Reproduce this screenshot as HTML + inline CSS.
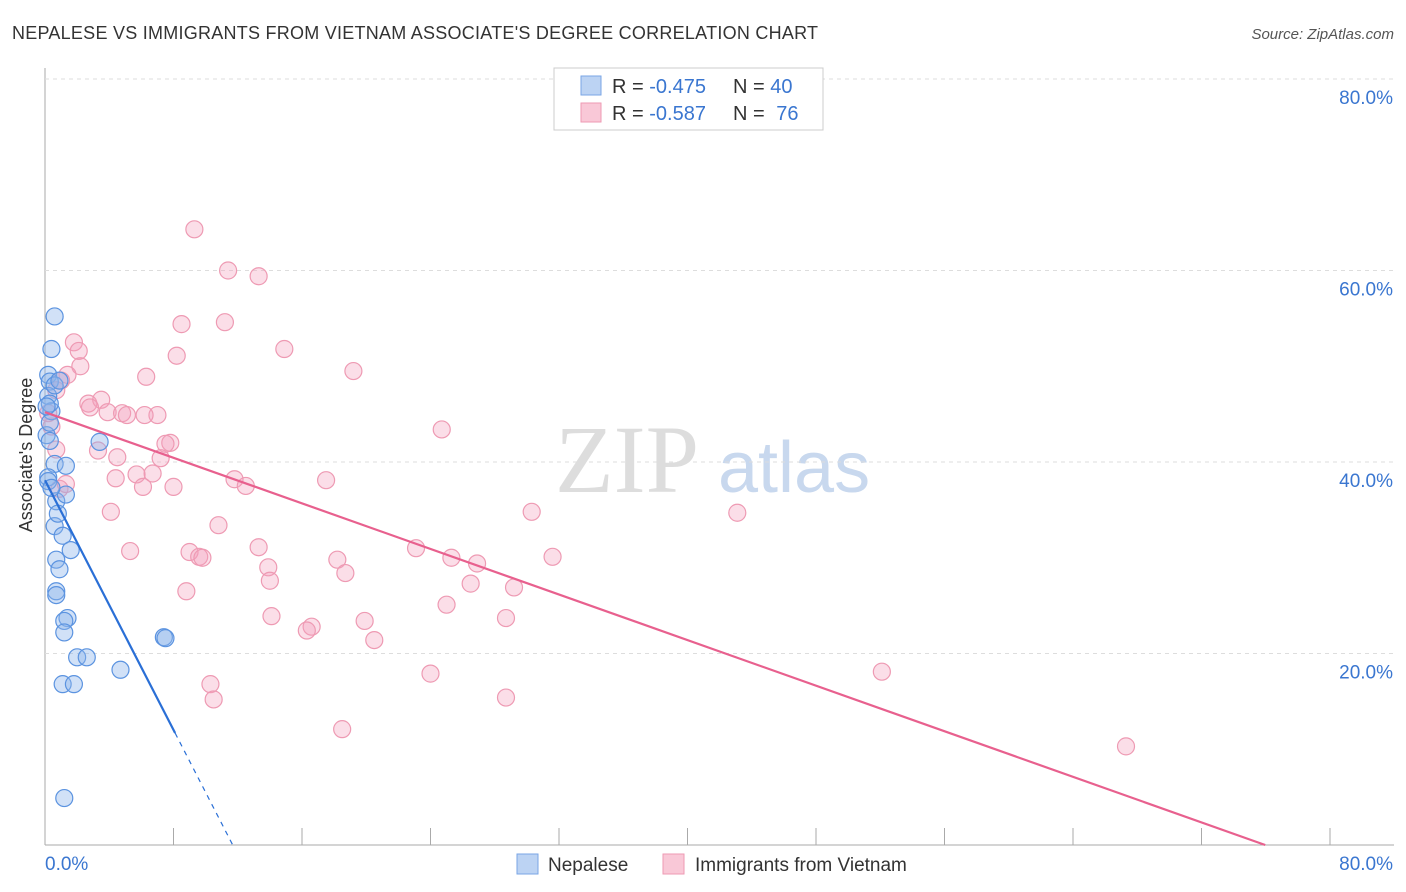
<!DOCTYPE html>
<html><head><meta charset="utf-8">
<style>
body{margin:0;background:#fff;font-family:"Liberation Sans",sans-serif;}
#wrap{position:relative;width:1406px;height:892px;overflow:hidden;}
</style></head>
<body>
<div id="wrap">
<svg id="svg" width="1406" height="892" xmlns="http://www.w3.org/2000/svg">
<text x="12" y="39" font-size="18" fill="#333" textLength="806">NEPALESE VS IMMIGRANTS FROM VIETNAM ASSOCIATE'S DEGREE CORRELATION CHART</text>
<text x="1394" y="39" font-size="15" fill="#555" text-anchor="end" font-style="italic">Source: ZipAtlas.com</text>
<text x="32" y="455" font-size="18" fill="#333" text-anchor="middle" transform="rotate(-90 32 455)">Associate's Degree</text>
<text x="555" y="492" font-size="96" fill="#ddd" font-family="Liberation Serif,serif">ZIP</text>
<text x="718" y="492" font-size="72" fill="#c8d8ee">atlas</text>
<g id="grid"></g><g id="marks"></g>
<g>
<rect x="554" y="68" width="269" height="62" fill="#fff" stroke="#ccc"/>
<rect x="581" y="76" width="20" height="19" fill="#bcd3f3" stroke="#7aa6e6"/>
<rect x="581" y="103" width="20" height="19" fill="#f9c8d7" stroke="#ee9ab3"/>
<text x="612" y="93" font-size="20" fill="#333">R = <tspan fill="#3a76d0">-0.475</tspan></text>
<text x="733" y="93" font-size="20" fill="#333">N = <tspan fill="#3a76d0">40</tspan></text>
<text x="612" y="120" font-size="20" fill="#333">R = <tspan fill="#3a76d0">-0.587</tspan></text>
<text x="733" y="120" font-size="20" fill="#333">N = <tspan fill="#3a76d0" dx="6">76</tspan></text>
</g>
<g>
<rect x="517" y="854" width="21" height="20" fill="#bcd3f3" stroke="#7aa6e6"/>
<text x="548" y="871" font-size="19" fill="#333">Nepalese</text>
<rect x="663" y="854" width="21" height="20" fill="#f9c8d7" stroke="#ee9ab3"/>
<text x="695" y="871" font-size="19" fill="#333">Immigrants from Vietnam</text>
</g>
</svg>
</div>
<script>
const yTicks=[20,40,60,80];
const xTickLabels=["0.0%","80.0%"];
const blueX=[0.6,0.4,0.2,0.3,0.2,0.4,0.1,0.3,3.4,0.6,1.3,0.2,0.7,1.3,0.6,0.8,1.1,1.6,0.7,0.9,0.7,0.7,1.4,1.2,1.2,2.0,2.6,1.1,1.8,4.7,7.4,7.5,1.2,0.2,0.4,0.3,0.6,0.9,0.1,0.3];
const blueY=[55.2,51.8,49.1,48.4,46.9,45.3,42.8,44.1,42.1,39.8,39.6,38.4,35.9,36.6,33.3,34.6,32.3,30.8,29.8,28.8,26.5,26.1,23.7,23.4,22.2,19.6,19.6,16.8,16.8,18.3,21.7,21.6,4.9,38.0,37.3,46.1,48.0,48.5,45.8,42.2];
const pinkX=[9.3,11.4,13.3,8.5,11.2,14.9,8.2,19.2,1.8,2.1,2.2,1.4,1.0,0.7,6.3,0.4,2.7,3.5,2.8,3.9,4.8,5.1,7.0,6.2,7.8,7.5,3.3,4.5,7.2,24.7,5.7,6.7,11.8,4.4,6.1,8.0,12.5,17.5,4.1,10.8,30.3,43.1,5.3,9.0,9.6,9.8,13.3,23.1,25.3,26.9,31.6,18.2,13.9,18.7,14.0,26.5,8.8,29.2,25.0,14.1,19.9,16.6,16.3,28.7,20.5,24.0,10.3,10.5,28.7,18.5,52.1,67.3,0.2,0.7,0.9,1.3];
const pinkY=[64.3,60.0,59.4,54.4,54.6,51.8,51.1,49.5,52.5,51.6,50.0,49.1,48.5,47.5,48.9,43.7,46.1,46.5,45.7,45.2,45.1,44.9,44.9,44.9,42.0,41.9,41.2,40.5,40.4,43.4,38.7,38.8,38.2,38.3,37.4,37.4,37.5,38.1,34.8,33.4,34.8,34.7,30.7,30.6,30.1,30.0,31.1,31.0,30.0,29.4,30.1,29.8,29.0,28.4,27.6,27.3,26.5,26.9,25.1,23.9,23.4,22.8,22.4,23.7,21.4,17.9,16.8,15.2,15.4,12.1,18.1,10.3,45.1,41.3,37.2,37.7];
const blueFit=[ -0.475, 38.1, -3.26 ];
const pinkFit=[ -0.587, 45.2, -0.595 ];
const NS="http://www.w3.org/2000/svg";
const X0=45,X1=1330,Y0=845,Y80=79;
function sx(v){return X0+v*(X1-X0)/80;}
function sy(v){return Y0-v*(Y0-Y80)/80;}
function mk(tag,attrs,parent){const e=document.createElementNS(NS,tag);for(const k in attrs)e.setAttribute(k,attrs[k]);parent.appendChild(e);return e;}
const grid=document.getElementById('grid'),marks=document.getElementById('marks');
let ax=mk('line',{x1:X0,y1:68,x2:X0,y2:Y0,stroke:'#aaa'},grid);


let bx=mk('line',{x1:X0,y1:Y0,x2:1394,y2:Y0,stroke:'#aaa'},grid);


for(let i=1;i<=10;i++){const x=sx(i*8);let t=mk('line',{x1:x,y1:Y0,x2:x,y2:Y0-17,stroke:'#aaa'},grid);

}
yTicks.forEach(v=>{const y=sy(v);let g=mk('line',{x1:X0,y1:y,x2:1394,y2:y,stroke:'#ddd','stroke-dasharray':'4,4'},grid);


let t=mk('text',{x:1393,y:y+25,'font-size':19,fill:'#3a76d0','text-anchor':'end'},grid);t.textContent=v.toFixed(1)+'%';

});
let l0=mk('text',{x:45,y:870,'font-size':19,fill:'#3a76d0'},grid);l0.textContent=xTickLabels[0];


let l1=mk('text',{x:1393,y:870,'font-size':19,fill:'#3a76d0','text-anchor':'end'},grid);l1.textContent=xTickLabels[1];


pinkX.forEach((v,i)=>{let c=mk('circle',{cx:sx(v),cy:sy(pinkY[i]),r:8.5,fill:'rgba(244,160,188,0.35)',stroke:'#ee9ab3','stroke-width':1.2},marks);

});
blueX.forEach((v,i)=>{let c=mk('circle',{cx:sx(v),cy:sy(blueY[i]),r:8.5,fill:'rgba(140,180,235,0.4)',stroke:'#5b93e0','stroke-width':1.2},marks);

});
let pl=mk('line',{x1:sx(0),y1:sy(pinkFit[1]),x2:sx(pinkFit[1]/-pinkFit[2]),y2:sy(0),stroke:'#e8608e','stroke-width':2.2},marks);


const bEnd=8.1;
let bl=mk('line',{x1:sx(0),y1:sy(blueFit[1]),x2:sx(bEnd),y2:sy(blueFit[1]+blueFit[2]*bEnd),stroke:'#2a6fd6','stroke-width':2.2},marks);


let bd=mk('line',{x1:sx(bEnd),y1:sy(blueFit[1]+blueFit[2]*bEnd),x2:sx(blueFit[1]/-blueFit[2]),y2:sy(0),stroke:'#2a6fd6','stroke-width':1.2,'stroke-dasharray':'5,5'},marks);


</script>
</body></html>
